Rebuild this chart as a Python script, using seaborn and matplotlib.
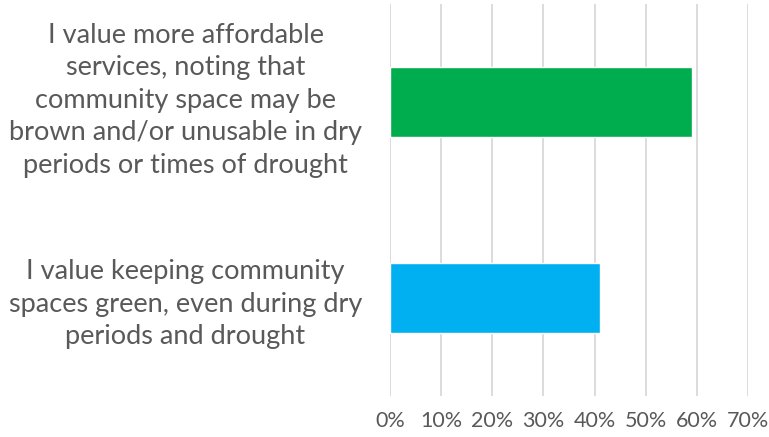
import matplotlib
matplotlib.use("Agg")
import matplotlib.pyplot as plt
import matplotlib.transforms as mtransforms
import seaborn as sns
import pandas as pd
from matplotlib.ticker import PercentFormatter

# values
categories = [
    "I value more affordable\nservices, noting that\ncommunity space may be\nbrown and/or unusable in dry\nperiods or times of drought",
    "I value keeping community\nspaces green, even during dry\nperiods and drought",
]
shares = [0.59, 0.41]
colors = ["#00AD4E", "#00B0F0"]
x_ticks = [0, 0.1, 0.2, 0.3, 0.4, 0.5, 0.6, 0.7]

df = pd.DataFrame({"option": categories, "share": shares})

sns.set_style("white")
plt.rcParams["font.family"] = ["Lato", "DejaVu Sans"]

fig = plt.figure(figsize=(7.69, 4.37), dpi=100)
ax = fig.add_axes([390 / 769, 41 / 437, 358 / 769, 392 / 437])

sns.barplot(data=df, x="share", y="option", hue="option", palette=colors,
            width=0.36, legend=False, ax=ax, saturation=1)

ax.set_xlim(0, 0.7)
ax.set_xticks(x_ticks)
ax.xaxis.set_major_formatter(PercentFormatter(1, decimals=0))
ax.grid(axis="x", color="#d9d9d9", linewidth=1.3)
ax.set_axisbelow(True)
for s in ax.spines.values():
    s.set_visible(False)
ax.set_xlabel("")
ax.set_ylabel("")
ax.tick_params(axis="x", length=0, pad=11, labelsize=15.5, labelcolor="#595959")
ax.tick_params(axis="y", length=0, pad=20, labelsize=19.5, labelcolor="#595959")
for lbl in ax.get_yticklabels():
    lbl.set_multialignment("center")
    lbl.set_linespacing(1.38)

# the long label sits a little above its bar in the original
lift = mtransforms.ScaledTranslation(0, 8 / 100, fig.dpi_scale_trans)
first = ax.get_yticklabels()[0]
first.set_transform(first.get_transform() + lift)

fig.savefig("out.png", dpi=100)
